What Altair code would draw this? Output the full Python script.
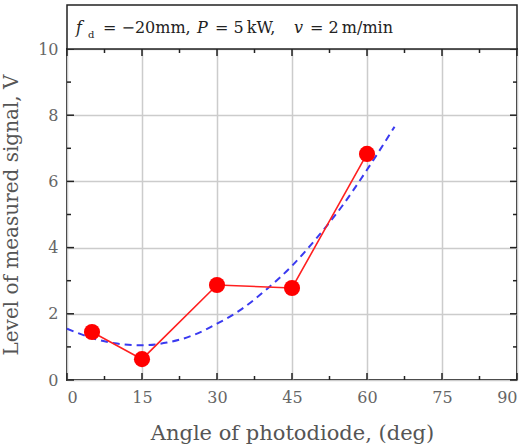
import altair as alt
import pandas as pd

# measured points
angle = [5, 15, 30, 45, 60]
signal = [1.45, 0.63, 2.87, 2.78, 6.83]

# dashed trend curve
fit_angle = [0, 5, 10, 15, 20, 25, 30, 35, 40, 45, 50, 55, 60, 65.5]
fit_signal = [1.55, 1.27, 1.10, 1.05, 1.13, 1.34, 1.70, 2.15, 2.75, 3.45, 4.30, 5.25, 6.35, 7.65]

x_major = [0, 15, 30, 45, 60, 75, 90]
x_minor = [7.5, 22.5, 37.5, 52.5, 67.5, 82.5]
y_major = [0, 2, 4, 6, 8, 10]
y_minor = [1, 3, 5, 7, 9]

W, H = 450, 331
SERIF = "DejaVu Serif"

pts = pd.DataFrame({"angle": angle, "signal": signal})
fit = pd.DataFrame({"angle": fit_angle, "signal": fit_signal})

xs = alt.Scale(domain=[0, 90], nice=False)
ys = alt.Scale(domain=[0, 10], nice=False)

xaxis = alt.Axis(values=x_major, ticks=False, domain=False, grid=True,
                 title="Angle of photodiode, (deg)", labelPadding=9,
                 titlePadding=17, titleFontSize=21)
yaxis = alt.Axis(values=y_major, ticks=False, domain=False, grid=True,
                 title="Level of measured signal, V", labelPadding=9,
                 titlePadding=16, titleFontSize=20)

base_grid = alt.Chart(fit).mark_line(opacity=0).encode(
    x=alt.X("angle:Q", scale=xs, axis=xaxis),
    y=alt.Y("signal:Q", scale=ys, axis=yaxis),
)

fit_line = alt.Chart(fit).mark_line(
    color="#3a3af0", strokeDash=[7, 5], strokeWidth=2, interpolate="monotone"
).encode(x=alt.X("angle:Q", scale=xs), y=alt.Y("signal:Q", scale=ys))

meas_line = alt.Chart(pts).mark_line(color="#ff2020", strokeWidth=1.6).encode(
    x=alt.X("angle:Q", scale=xs), y=alt.Y("signal:Q", scale=ys))

meas_pts = alt.Chart(pts).mark_circle(color="#ff0000", opacity=1, size=260).encode(
    x=alt.X("angle:Q", scale=xs), y=alt.Y("signal:Q", scale=ys))

def xticks(vals, length):
    df = pd.DataFrame({"angle": vals})
    bottom = alt.Chart(df).mark_rule(color="#222", strokeWidth=1.5).encode(
        x=alt.X("angle:Q", scale=xs), y=alt.value(H), y2=alt.value(H - length))
    top = alt.Chart(df).mark_rule(color="#222", strokeWidth=1.5).encode(
        x=alt.X("angle:Q", scale=xs), y=alt.value(0), y2=alt.value(length))
    return [bottom, top]

def yticks(vals, length):
    df = pd.DataFrame({"signal": vals})
    left = alt.Chart(df).mark_rule(color="#222", strokeWidth=1.5).encode(
        y=alt.Y("signal:Q", scale=ys), x=alt.value(0), x2=alt.value(length))
    right = alt.Chart(df).mark_rule(color="#222", strokeWidth=1.5).encode(
        y=alt.Y("signal:Q", scale=ys), x=alt.value(W), x2=alt.value(W - length))
    return [left, right]

one = pd.DataFrame({"a": [0]})
box = alt.Chart(one).mark_rect(fill="white", stroke="#222", strokeWidth=1.5).encode(
    x=alt.value(0), x2=alt.value(W), y=alt.value(-44), y2=alt.value(0))

def txt(s, x, y, size=16, italic=False):
    return alt.Chart(one).mark_text(
        text=s, align="left", baseline="alphabetic", font=SERIF, fontSize=size,
        fontStyle="italic" if italic else "normal", color="#222"
    ).encode(x=alt.value(x), y=alt.value(y))

label_parts = [
    txt("f", 9, -16, italic=True),
    txt("d", 21, -11, size=10),
    txt("= \u221220mm,", 36, -16),
    txt("P", 130, -16, italic=True),
    txt("= 5\u2009kW,", 148, -16),
    txt("v", 227, -16, italic=True),
    txt("= 2\u2009m/min", 243, -16),
]

chart = alt.layer(
    base_grid, fit_line, meas_line, meas_pts,
    *xticks(x_major, 7), *xticks(x_minor, 4),
    *yticks(y_major, 7), *yticks(y_minor, 4),
    box, *label_parts,
).properties(
    width=W, height=H,
    autosize=alt.AutoSizeParams(type="none"),
    padding={"left": 67, "top": 49, "right": 13, "bottom": 64},
).configure_view(
    stroke="#222", strokeWidth=2
).configure_axis(
    labelFont=SERIF, labelFontSize=16, labelColor="#666",
    titleFont=SERIF, titleFontWeight="normal", titleColor="#555",
    gridColor="#cccccc", gridWidth=1.5,
)

chart.save("out.html", embed_options={"renderer": "svg", "actions": False})
